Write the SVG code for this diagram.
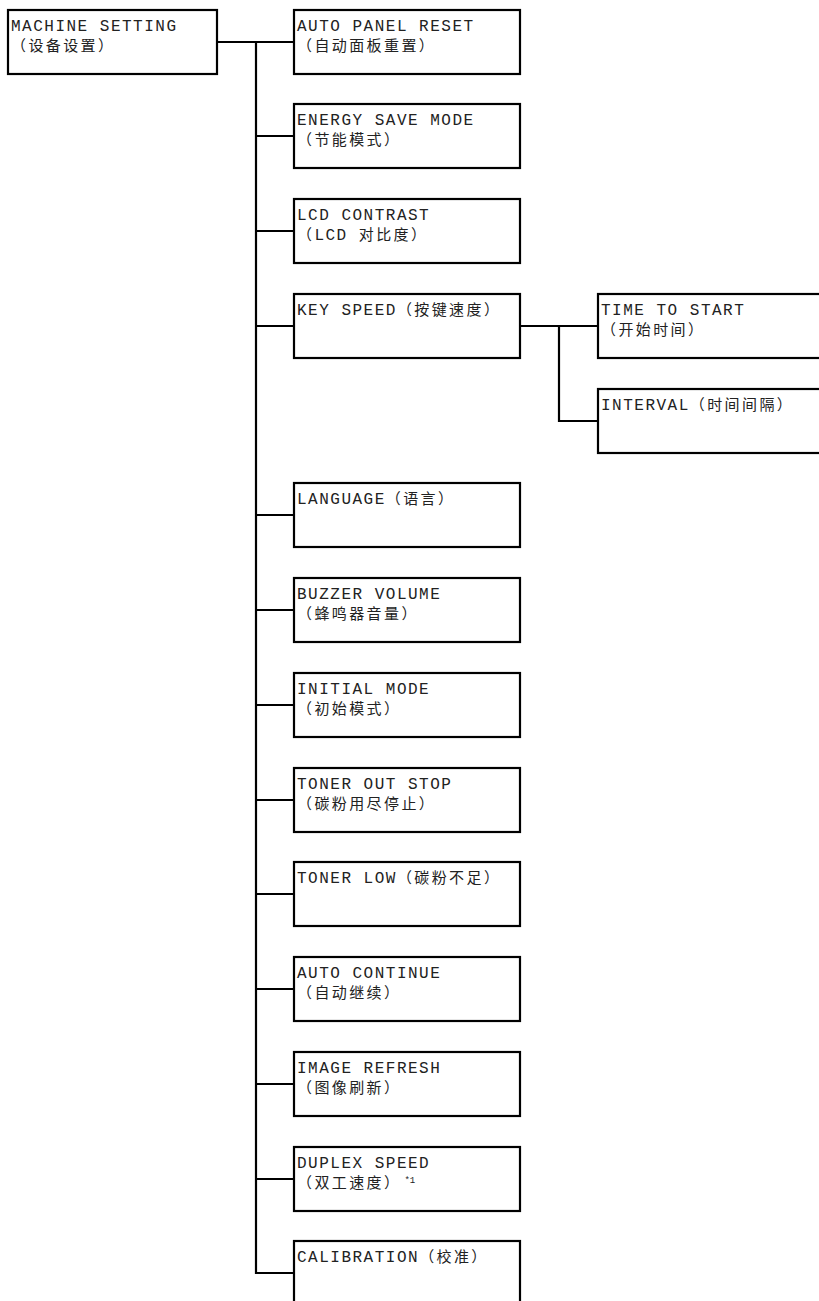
<svg xmlns="http://www.w3.org/2000/svg" width="819" height="1301" viewBox="0 0 819 1301">
<style>
rect.b{fill:#fff;stroke:#000;stroke-width:2.2}
.c line{stroke:#000;stroke-width:2.2}
text{font-family:"Liberation Mono","Noto Sans CJK SC",monospace;font-size:16px;letter-spacing:1.5px;fill:#222}
.z{font-size:15px;letter-spacing:2.4px}
.s{font-size:9px;letter-spacing:0}
</style>
<rect width="819" height="1301" fill="#fff"/>
<g class="c" id="connectors">
<line x1="217" y1="42" x2="257" y2="42"/>
<line x1="256" y1="41" x2="256" y2="1274"/>
<line x1="256" y1="42" x2="294" y2="42"/>
<line x1="256" y1="136" x2="294" y2="136"/>
<line x1="256" y1="231" x2="294" y2="231"/>
<line x1="256" y1="326" x2="294" y2="326"/>
<line x1="256" y1="515" x2="294" y2="515"/>
<line x1="256" y1="610" x2="294" y2="610"/>
<line x1="256" y1="705" x2="294" y2="705"/>
<line x1="256" y1="800" x2="294" y2="800"/>
<line x1="256" y1="894" x2="294" y2="894"/>
<line x1="256" y1="989" x2="294" y2="989"/>
<line x1="256" y1="1084" x2="294" y2="1084"/>
<line x1="256" y1="1179" x2="294" y2="1179"/>
<line x1="255" y1="1273" x2="294" y2="1273"/>
<line x1="520" y1="326" x2="598" y2="326"/>
<line x1="559" y1="325" x2="559" y2="422"/>
<line x1="558" y1="421" x2="598" y2="421"/>
</g>
<g id="n-machine-setting"><rect class="b" x="8" y="10" width="209" height="64"/><text x="11" y="31">MACHINE SETTING</text><text class="z" x="11" y="51">（设备设置）</text></g>
<g id="n-auto-panel-reset"><rect class="b" x="294" y="10" width="226" height="64"/><text x="297" y="31">AUTO PANEL RESET</text><text class="z" x="297" y="51">（自动面板重置）</text></g>
<g id="n-energy-save-mode"><rect class="b" x="294" y="104" width="226" height="64"/><text x="297" y="125">ENERGY SAVE MODE</text><text class="z" x="297" y="145">（节能模式）</text></g>
<g id="n-lcd-contrast"><rect class="b" x="294" y="199" width="226" height="64"/><text x="297" y="220">LCD CONTRAST</text><text class="z" x="297" y="240">（<tspan style="font-size:16px;letter-spacing:1.5px">LCD </tspan>对比度）</text></g>
<g id="n-key-speed"><rect class="b" x="294" y="294" width="226" height="64"/><text x="297" y="315">KEY SPEED<tspan class="z">（按键速度）</tspan></text></g>
<g id="n-time-to-start"><rect class="b" x="598" y="294" width="240" height="64"/><text x="601" y="315">TIME TO START</text><text class="z" x="601" y="335">（开始时间）</text></g>
<g id="n-interval"><rect class="b" x="598" y="389" width="240" height="64"/><text x="601" y="410">INTERVAL<tspan class="z">（时间间隔）</tspan></text></g>
<g id="n-language"><rect class="b" x="294" y="483" width="226" height="64"/><text x="297" y="504">LANGUAGE<tspan class="z">（语言）</tspan></text></g>
<g id="n-buzzer-volume"><rect class="b" x="294" y="578" width="226" height="64"/><text x="297" y="599">BUZZER VOLUME</text><text class="z" x="297" y="619">（蜂鸣器音量）</text></g>
<g id="n-initial-mode"><rect class="b" x="294" y="673" width="226" height="64"/><text x="297" y="694">INITIAL MODE</text><text class="z" x="297" y="714">（初始模式）</text></g>
<g id="n-toner-out-stop"><rect class="b" x="294" y="768" width="226" height="64"/><text x="297" y="789">TONER OUT STOP</text><text class="z" x="297" y="809">（碳粉用尽停止）</text></g>
<g id="n-toner-low"><rect class="b" x="294" y="862" width="226" height="64"/><text x="297" y="883">TONER LOW<tspan class="z">（碳粉不足）</tspan></text></g>
<g id="n-auto-continue"><rect class="b" x="294" y="957" width="226" height="64"/><text x="297" y="978">AUTO CONTINUE</text><text class="z" x="297" y="998">（自动继续）</text></g>
<g id="n-image-refresh"><rect class="b" x="294" y="1052" width="226" height="64"/><text x="297" y="1073">IMAGE REFRESH</text><text class="z" x="297" y="1093">（图像刷新）</text></g>
<g id="n-duplex-speed"><rect class="b" x="294" y="1147" width="226" height="64"/><text x="297" y="1168">DUPLEX SPEED</text><text class="z" x="297" y="1188">（双工速度）<tspan class="s" dx="3" dy="-5">*1</tspan></text></g>
<g id="n-calibration"><rect class="b" x="294" y="1241" width="226" height="80"/><text x="297" y="1262">CALIBRATION<tspan class="z">（校准）</tspan></text></g>
</svg>
